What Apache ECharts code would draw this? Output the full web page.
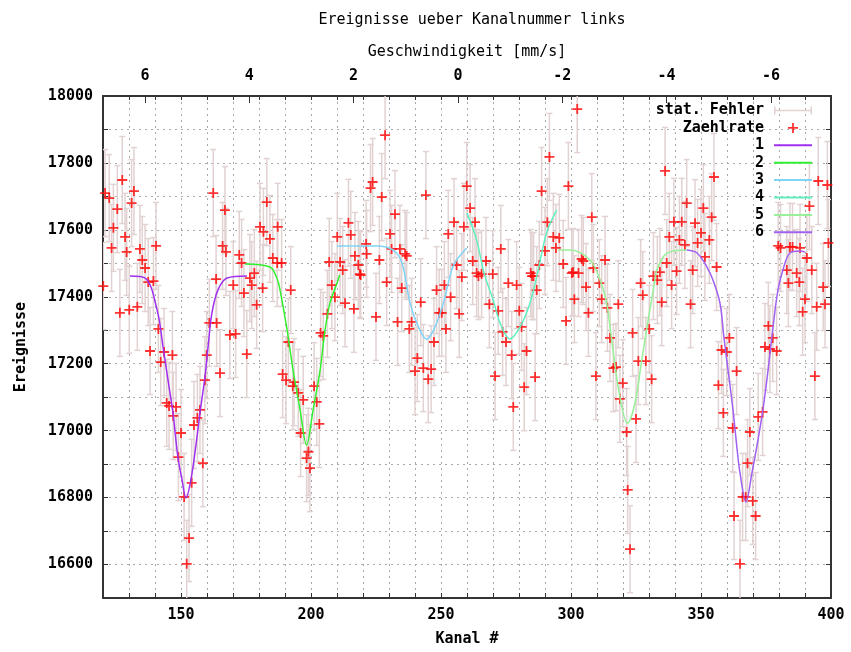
<!DOCTYPE html>
<html>
<head>
<meta charset="utf-8">
<title>Ereignisse ueber Kanalnummer links</title>
<script src="https://cdn.jsdelivr.net/npm/echarts@6/dist/echarts.min.js"></script>
<style>
  html, body { margin: 0; padding: 0; background: #fff; }
  #chart { width: 851px; height: 652px; }
</style>
</head>
<body>
<div id="chart"></div>
<script>
// Messpunkte (Kanal, Zaehlrate)
var kanal = [
  120.1,120.8,122.4,123.3,124.0,125.5,126.5,127.4,128.5,129.1,130.1,131.0,131.9,133.2,134.2,135.1,136.2,137.4,138.1,139.4,
  140.4,141.3,142.2,143.5,144.5,145.4,146.7,147.0,148.1,149.0,150.0,151.2,152.2,153.1,154.1,155.0,156.3,157.3,158.4,159.2,
  159.9,160.9,162.4,163.5,163.7,165.0,166.0,166.9,167.3,168.8,170.1,171.0,172.4,173.3,174.2,175.3,176.5,177.2,178.2,179.1,
  180.4,181.4,181.7,183.0,184.2,185.3,187.0,187.2,188.7,189.1,190.4,191.3,192.2,193.0,193.5,195.1,196.0,197.0,198.3,199.0,
  199.6,201.2,202.2,203.2,203.7,204.7,206.3,207.0,208.0,209.2,210.1,211.2,212.2,213.1,214.4,215.3,216.5,216.9,218.2,218.8,
  219.1,221.2,221.4,222.9,223.7,225.0,226.3,227.2,228.5,229.1,230.4,231.0,232.3,233.3,234.2,234.9,236.2,236.8,237.8,238.7,
  240.0,240.9,242.2,243.2,244.2,245.1,246.2,247.3,248.3,249.3,250.3,251.3,251.9,252.8,253.7,255.0,256.0,257.0,258.0,258.8,
  259.9,261.2,262.2,263.1,263.7,264.4,265.6,267.3,268.6,269.9,270.8,272.0,273.0,273.7,275.0,275.9,277.2,277.8,279.1,280.1,
  281.0,282.0,282.9,284.5,285.0,285.6,286.2,286.8,287.8,288.7,290.0,290.9,291.7,293.2,294.2,295.5,297.0,298.1,299.0,300.3,
  300.8,301.3,302.4,302.9,304.1,304.7,305.8,306.7,308.0,308.6,309.6,310.9,311.8,313.1,314.0,315.0,316.3,317.3,318.2,318.8,
  319.9,321.4,321.8,322.7,323.7,325.0,325.9,326.8,327.6,328.8,330.1,331.0,331.7,333.2,334.2,334.9,336.2,336.8,337.8,338.7,
  339.6,340.6,341.7,342.6,343.8,344.5,346.0,346.8,347.7,348.7,350.0,350.9,351.5,353.2,354.1,355.0,356.0,356.7,357.9,358.6,
  359.9,360.9,362.2,362.7,363.7,365.0,366.0,367.2,367.9,368.8,369.9,371.0,372.0,373.7,374.6,375.9,376.5,377.6,379.1,379.7,
  380.6,383.0,383.6,384.2,385.2,386.8,387.8,388.1,389.1,390.0,390.7,391.7,392.6,393.8,394.5,395.1,397.0,397.7,398.6,399.0
];
var zaehlrate = [
  17432,17710,17695,17546,17606,17662,17352,17749,17579,17534,17361,17680,17716,17370,17543,17510,17486,17444,17238,17447,
  17552,17304,17205,17235,17083,17074,17226,17044,17071,16921,16993,16802,16602,16679,16844,17017,17038,17062,16903,17151,
  17226,17322,17710,17453,17322,17172,17552,17659,17534,17286,17435,17289,17525,17501,17411,17229,17456,17435,17471,17376,
  17609,17426,17594,17683,17573,17516,17501,17609,17501,17169,17151,17265,17420,17133,17145,17113,16993,17092,16918,16937,
  16888,17133,17086,17020,17292,17283,17349,17504,17435,17399,17579,17504,17480,17381,17621,17585,17364,17522,17495,17468,
  17465,17558,17528,17725,17743,17340,17510,17698,17883,17444,17588,17543,17647,17325,17543,17426,17528,17522,17304,17325,
  17178,17217,17384,17187,17704,17154,17184,17265,17420,17352,17352,17435,17304,17588,17399,17623,17495,17349,17459,17609,
  17731,17665,17507,17623,17471,17462,17468,17507,17378,17468,17163,17358,17543,17295,17265,17441,17226,17071,17435,17358,
  17310,17130,17238,17471,17462,17462,17160,17420,17495,17716,17537,17623,17818,17579,17546,17576,17498,17328,17731,17471,
  17474,17393,17961,17471,17513,17507,17429,17352,17638,17486,17163,17441,17393,17510,17367,17277,17187,17190,17378,17095,
  17142,16996,16823,16646,17292,17035,17208,17441,17405,17208,17304,17154,17462,17450,17474,17384,17776,17501,17579,17435,
  17624,17477,17570,17624,17555,17680,17378,17480,17620,17561,17591,17665,17519,17570,17638,17758,17489,17136,17241,17053,
  17235,17277,17008,16745,17178,16602,16802,16802,16903,16996,16790,16745,17041,17056,17250,17313,17244,17277,17238,17552,
  17546,17480,17441,17549,17549,17471,17444,17546,17355,17393,17516,17671,17480,17163,17370,17746,17429,17378,17734,17561
];
var statFehler = 130; // halbe Laenge der Fehlerbalken

var fit1 = [[130.4,17462],[136.2,17456],[140.8,17361],[143.1,17250],[145.0,17151],[146.9,17053],[148.8,16921],[150.4,16853],
  [151.9,16799],[153.8,16853],[156.0,16972],[157.3,17053],[159.2,17160],[160.4,17250],[161.9,17352],[164.2,17420],[167.7,17456],[175.4,17462]];
var fit2 = [[174.6,17498],[184.2,17489],[187.0,17453],[188.1,17420],[190.8,17301],[193.1,17181],[195.8,17062],[198.3,16957],
  [200.8,17062],[203.5,17181],[205.4,17301],[207.3,17381],[210.0,17441],[211.0,17465]];
var fit3 = [[210.0,17552],[225.4,17552],[231.5,17540],[235.0,17501],[238.1,17381],[241.3,17310],[244.5,17273],[247.7,17310],
  [250.9,17381],[254.1,17480],[256.0,17510],[259.9,17546]];
var fit4 = [[260.0,17650],[263.7,17570],[266.6,17470],[270.1,17390],[272.7,17322],[276.5,17274],[280.4,17310],[284.2,17381],
  [287.4,17480],[290.6,17591],[294.5,17659]];
var fit5 = [[295.1,17540],[299.6,17540],[307.3,17510],[311.2,17450],[313.7,17381],[316.3,17232],[318.8,17101],[321.7,17022],
  [324.6,17082],[327.2,17211],[329.7,17331],[332.3,17450],[333.0,17480],[336.8,17530],[344.5,17540]];
var fit6 = [[344.5,17540],[348.5,17531],[352.3,17489],[354.6,17450],[357.3,17381],[358.8,17280],[360.4,17181],[362.3,17062],
  [363.8,16951],[365.0,16874],[367.3,16787],[369.6,16874],[371.9,16972],[373.8,17062],[375.8,17181],[377.7,17310],[379.6,17420],
  [381.5,17480],[384.2,17531],[388.1,17537],[390.0,17534]];

// obere Achse: Geschwindigkeit in mm/s und zugehoeriger Kanal
var geschwTicks = [6, 4, 2, 0, -2, -4, -6];
var geschwKanal = [136.2, 176.3, 216.4, 256.5, 296.6, 336.7, 376.9];

var fitNamen = ['1', '2', '3', '4', '5', '6'];
var fitFarben = ['#a030f0', '#30f030', '#80d4f8', '#60f0c0', '#98f098', '#a060f0'];
var fitDaten = [fit1, fit2, fit3, fit4, fit5, fit6];

var mono = 'DejaVu Sans Mono, Liberation Mono, monospace';
var achsenText = { color: '#000', fontFamily: mono, fontWeight: 'bold', fontSize: 15 };

var fehlerDaten = kanal.map(function (k, i) {
  return [k, zaehlrate[i] - statFehler, zaehlrate[i] + statFehler];
});
var punktDaten = kanal.map(function (k, i) { return [k, zaehlrate[i]]; });

var myChart = echarts.init(document.getElementById('chart'));

var series = [{
  name: 'stat. Fehler',
  type: 'custom',
  clip: true,
  itemStyle: { color: '#e2d2d2' },
  renderItem: function (params, api) {
    var lo = api.coord([api.value(0), api.value(1)]);
    var hi = api.coord([api.value(0), api.value(2)]);
    var w = 3;
    var st = { stroke: '#e2d2d2', lineWidth: 1.5 };
    return {
      type: 'group',
      children: [
        { type: 'line', shape: { x1: lo[0], y1: lo[1], x2: hi[0], y2: hi[1] }, style: st },
        { type: 'line', shape: { x1: lo[0] - w, y1: lo[1], x2: lo[0] + w, y2: lo[1] }, style: st },
        { type: 'line', shape: { x1: hi[0] - w, y1: hi[1], x2: hi[0] + w, y2: hi[1] }, style: st }
      ]
    };
  },
  encode: { x: 0, y: [1, 2] },
  data: fehlerDaten
}, {
  name: 'Zaehlrate',
  type: 'scatter',
  symbol: 'path://M4.1,0 L5.9,0 L5.9,4.1 L10,4.1 L10,5.9 L5.9,5.9 L5.9,10 L4.1,10 L4.1,5.9 L0,5.9 L0,4.1 L4.1,4.1 Z',
  symbolKeepAspect: true,
  symbolSize: 10,
  itemStyle: { color: '#ff0000' },
  data: punktDaten
}];

fitDaten.forEach(function (d, i) {
  series.push({
    name: fitNamen[i],
    type: 'line',
    data: d,
    symbol: 'none',
    smooth: 0.35,
    lineStyle: { color: fitFarben[i], width: 1.5 },
    itemStyle: { color: fitFarben[i] }
  });
});

var legendDaten = [
  { name: 'stat. Fehler', icon: 'path://M0,1 L1.5,1 L1.5,4.2 L36.5,4.2 L36.5,1 L38,1 L38,9 L36.5,9 L36.5,5.8 L1.5,5.8 L1.5,9 L0,9 Z' },
  { name: 'Zaehlrate' }
];
fitNamen.forEach(function (n) {
  legendDaten.push({ name: n, itemStyle: { opacity: 0 } });
});

myChart.setOption({
  animation: false,
  title: {
    text: 'Ereignisse ueber Kanalnummer links',
    left: 467,
    top: 8,
    textAlign: 'center',
    textStyle: { fontFamily: mono, fontWeight: 'normal', fontSize: 15, color: '#000' }
  },
  legend: {
    orient: 'vertical',
    right: 33,
    top: 97,
    align: 'right',
    itemWidth: 38,
    itemHeight: 10,
    itemGap: 0.4,
    selectedMode: false,
    textStyle: { fontFamily: mono, fontWeight: 'bold', fontSize: 15, color: '#000', lineHeight: 17, padding: [0, 5, 0, 0] },
    data: legendDaten
  },
  grid: { left: 103, right: 20, top: 96, bottom: 54 },
  xAxis: [{
    type: 'value',
    position: 'bottom',
    min: 120,
    max: 400,
    interval: 10,
    name: 'Kanal #',
    nameLocation: 'middle',
    nameGap: 34,
    nameTextStyle: achsenText,
    axisLine: { lineStyle: { color: '#333', width: 2 } },
    axisTick: { inside: true, length: 5, lineStyle: { color: '#333' } },
    axisLabel: Object.assign({ margin: 10, formatter: function (v) { return v % 50 === 0 ? String(v) : ''; } }, achsenText),
    splitLine: { show: true, lineStyle: { color: '#aaa', type: [2, 4], width: 1 } }
  }, {
    type: 'value',
    position: 'top',
    min: 120,
    max: 400,
    name: 'Geschwindigkeit [mm/s]',
    nameLocation: 'middle',
    nameGap: 36,
    nameTextStyle: { fontFamily: mono, fontWeight: 'normal', fontSize: 15, color: '#000' },
    axisLine: { lineStyle: { color: '#333', width: 2 } },
    axisTick: { inside: true, length: 7, customValues: geschwKanal, lineStyle: { color: '#333' } },
    axisLabel: Object.assign({
      margin: 12,
      customValues: geschwKanal,
      formatter: function (v) {
        var i = geschwKanal.indexOf(v);
        return i >= 0 ? String(geschwTicks[i]) : '';
      }
    }, achsenText),
    splitLine: { show: false }
  }, {
    type: 'value',
    position: 'top',
    min: 120,
    max: 400,
    interval: 10,
    axisLine: { show: false },
    axisTick: { inside: true, length: 4, lineStyle: { color: '#333' } },
    axisLabel: { show: false },
    splitLine: { show: false }
  }],
  yAxis: [{
    type: 'value',
    min: 16500,
    max: 18000,
    interval: 100,
    name: 'Ereignisse',
    nameLocation: 'middle',
    nameRotate: 90,
    nameGap: 74,
    nameTextStyle: achsenText,
    axisLine: { show: true, lineStyle: { color: '#333', width: 2 } },
    axisTick: { show: true, inside: true, length: 5, lineStyle: { color: '#333' } },
    axisLabel: Object.assign({ margin: 10, formatter: function (v) { return v % 200 === 0 ? String(v) : ''; } }, achsenText),
    splitLine: { show: true, lineStyle: { color: '#aaa', type: [2, 4], width: 1 } }
  }, {
    type: 'value',
    position: 'right',
    min: 16500,
    max: 18000,
    interval: 100,
    axisLine: { show: true, lineStyle: { color: '#333', width: 2 } },
    axisTick: { show: true, inside: true, length: 5, lineStyle: { color: '#333' } },
    axisLabel: { show: false },
    splitLine: { show: false }
  }],
  series: series
});
</script>
</body>
</html>
